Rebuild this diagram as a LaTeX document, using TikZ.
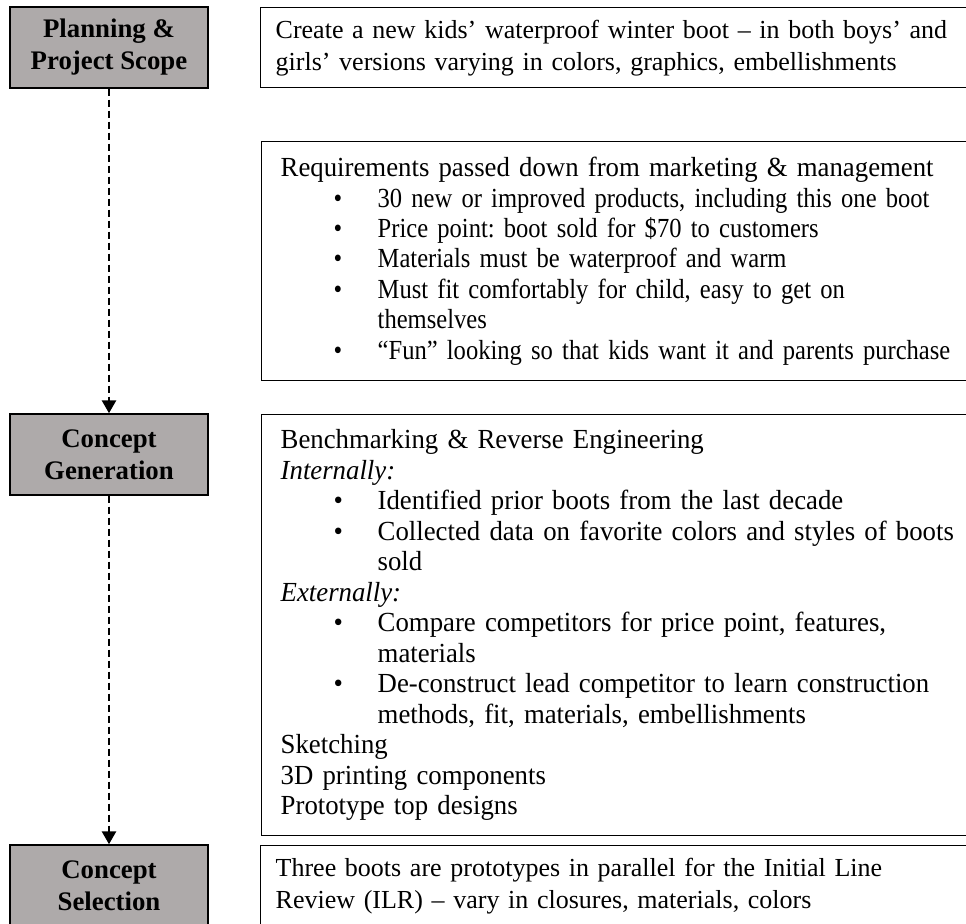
\documentclass[tikz,border=0pt]{standalone}
\usepackage{fontspec}
\setmainfont{Liberation Serif}
\newfontfamily\listfont[FakeStretch=0.97]{Liberation Serif}
\newfontfamily\tightfont[FakeStretch=0.89]{Liberation Serif}
\usetikzlibrary{positioning,arrows.meta}
\definecolor{stagecolor}{RGB}{174,170,170}
\setlength{\parindent}{0pt}
\frenchspacing
\hyphenpenalty=10000
\newcommand{\bitem}[1]{{\leftskip=48.5pt\noindent\llap{\makebox[22pt][l]{\textbullet}}#1\par}}

\begin{document}
\begin{tikzpicture}[%
    x=0.5pt, y=-0.5pt,                      % one unit is one pixel of the sketch, y runs down
    >={Triangle[length=6.5pt,width=7pt]},   % solid heads on the dashed flow
    ]
\tikzset{
  base/.style={draw, line width=0.7pt, rectangle, inner ysep=0pt},
  stage/.style={base, align=center, fill=stagecolor, minimum width=99pt, minimum height=40.5pt, font=\fontsize{13.4}{16}\selectfont\bfseries},
  note/.style={base, anchor=north west, align=left, inner xsep=7.5pt, text width=400pt, font=\fontsize{13}{16}\selectfont},
  list/.style={note, inner xsep=9.5pt, text width=400pt, font=\listfont\fontsize{13.8}{15.2}\selectfont},
  flow/.style={->, line width=1.3pt, dash pattern=on 3.5pt off 2pt},
}

\useasboundingbox (0,0) rectangle (966,924);

% stages on the left
\node [stage] (s1) at (109,47.5) {Planning \&\\Project Scope};
\node [stage] (s2) at (109,454.5) {Concept\\Generation};
\node [stage] (s3) at (109,885.5) {Concept\\Selection};

% descriptions on the right
\node [note, minimum height=40pt] (d1) at (260,7) {Create a new kids’ waterproof winter boot – in both boys’ and\newline girls’ versions varying in colors, graphics, embellishments};
\node [list, minimum height=119.5pt] (d2) at (261,141) {Requirements passed down from marketing \& management\par
  \tightfont
  \bitem{30 new or improved products, including this one boot}
  \bitem{Price point: boot sold for \$70 to customers}
  \bitem{Materials must be waterproof and warm}
  \bitem{Must fit comfortably for child, easy to get on\newline themselves}
  \bitem{“Fun” looking so that kids want it and parents purchase}};
\node [list, minimum height=210.5pt, font=\listfont\fontsize{13.8}{15.25}\selectfont] (d3) at (261,414) {Benchmarking \& Reverse Engineering\par
  \textit{Internally:}\par
  \bitem{Identified prior boots from the last decade}
  \bitem{Collected data on favorite colors and styles of boots\newline sold}
  \textit{Externally:}\par
  \bitem{Compare competitors for price point, features,\newline materials}
  \bitem{De-construct lead competitor to learn construction\newline methods, fit, materials, embellishments}
  Sketching\par
  3D printing components\par
  Prototype top designs};
\node [note, minimum height=40.5pt] (d4) at (260,845) {Three boots are prototypes in parallel for the Initial Line\newline Review (ILR) – vary in closures, materials, colors};

\draw [flow] (s1.south) -- (s2.north);
\draw [flow] (s2.south) -- (s3.north);

\end{tikzpicture}
\end{document}
